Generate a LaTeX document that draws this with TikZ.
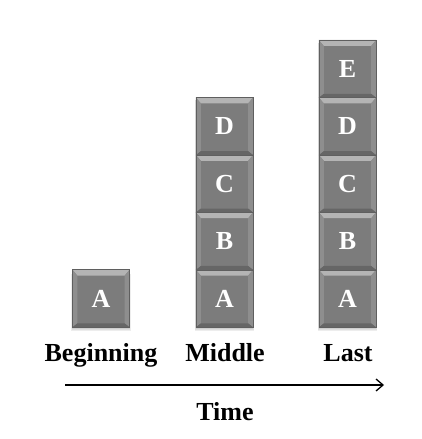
\documentclass[tikz,border=0pt]{standalone}
\usepackage{fontspec}
\setmainfont{Liberation Serif}
\usetikzlibrary{arrows.meta,backgrounds}
\definecolor{blockface}{RGB}{124,124,124}
\definecolor{bevellite}{RGB}{180,180,180}
\definecolor{bevelside}{RGB}{142,142,142}
\definecolor{beveldark}{RGB}{102,102,102}
\definecolor{blockrim}{RGB}{95,95,95}
\newcommand\boldbig{\fontsize{26}{26}\selectfont\bfseries}
\tikzset{
  blk/.style={minimum width=57pt, minimum height=57.4pt, inner sep=0pt,
    fill=blockface, text=white, font=\boldbig},
  lbl/.style={anchor=base, font=\boldbig, inner sep=0pt},
  rimline/.style={draw=blockrim, line width=0.6pt}
}
\begin{document}
\begin{tikzpicture}[x=1pt,y=1pt]
  \useasboundingbox (0,0) rectangle (422,439);
  % Beginning
  \node[blk] (b1) at (101,140.5) {A};
  % Middle
  \node[blk] (m1) at (224.5,140.5) {A};
  \node[blk] (m2) at (224.5,197.9) {B};
  \node[blk] (m3) at (224.5,255.3) {C};
  \node[blk] (m4) at (224.5,312.7) {D};
  % Last
  \node[blk] (l1) at (347.5,140.5) {A};
  \node[blk] (l2) at (347.5,197.9) {B};
  \node[blk] (l3) at (347.5,255.3) {C};
  \node[blk] (l4) at (347.5,312.7) {D};
  \node[blk] (l5) at (347.5,370.1) {E};
  % bevelled edges of every block
  \foreach \n in {b1,m1,m2,m3,m4,l1,l2,l3,l4,l5}{
    \fill[bevellite] (\n.north west) -- (\n.north east) -- ([shift={(-5pt,-6pt)}]\n.north east) -- ([shift={(5pt,-6pt)}]\n.north west) -- cycle;
    \fill[bevelside] (\n.north west) -- ([shift={(5pt,-6pt)}]\n.north west) -- ([shift={(5pt,4pt)}]\n.south west) -- (\n.south west) -- cycle;
    \fill[bevelside] (\n.north east) -- ([shift={(-5pt,-6pt)}]\n.north east) -- ([shift={(-5pt,4pt)}]\n.south east) -- (\n.south east) -- cycle;
    \fill[beveldark] (\n.south west) -- ([shift={(5pt,4pt)}]\n.south west) -- ([shift={(-5pt,4pt)}]\n.south east) -- (\n.south east) -- cycle;
    \draw[rimline] (\n.south west) rectangle (\n.north east);
  }
  % soft shadows below each stack, solid greys from faint outside to darker inside
  \begin{scope}[on background layer]
    \foreach \n/\t in {b1/b1,m1/m4,l1/l5}{
      \foreach \k/\g in {4/7,3/13,2/19,1/25}{
        \fill[black!\g] ([shift={(-0.5*\k pt+1pt,-\k pt)}]\n.south west) rectangle ([shift={(0.5*\k pt-1pt,-\k pt)}]\t.north east);
      }
    }
  \end{scope}
  % stage labels
  \node[lbl] (tb) at (101,77) {Beginning};
  \node[lbl] (tm) at (225,77) {Middle};
  \node[lbl] (tl) at (348,77) {Last};
  % time axis
  \coordinate (ta) at (65,54);
  \coordinate (tz) at (384,54);
  \draw[line width=1.3pt, -{Straight Barb[length=7pt,width=12pt,line width=1.3pt]}] (ta) -- (tz);
  \node[lbl] (tt) at (225,19) {Time};
\end{tikzpicture}
\end{document}
